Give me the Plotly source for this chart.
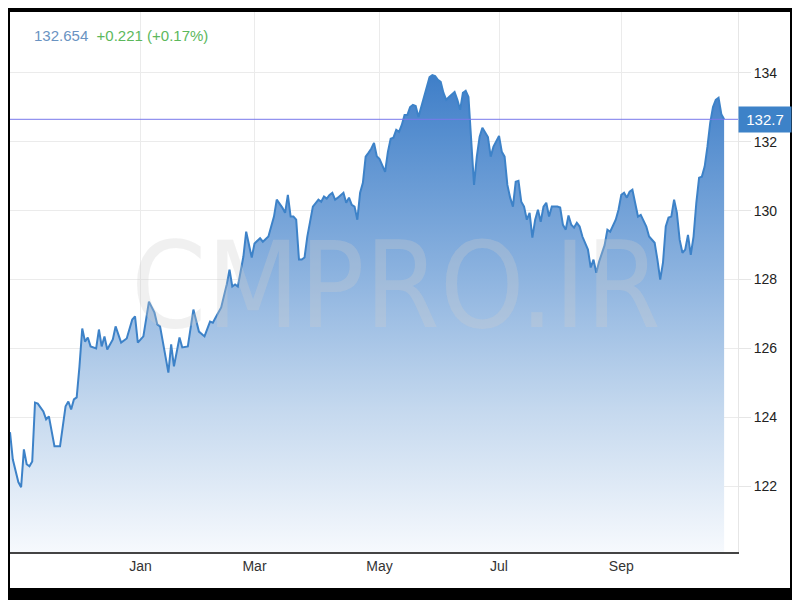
import plotly.graph_objects as go

dates = [
    "2020-10-28", "2020-10-29", "2020-11-02", "2020-11-03", "2020-11-04", "2020-11-05", "2020-11-06",
    "2020-11-09", "2020-11-10", "2020-11-11", "2020-11-13", "2020-11-16", "2020-11-17", "2020-11-18",
    "2020-11-19", "2020-11-23", "2020-11-24", "2020-11-25", "2020-11-26", "2020-11-27", "2020-11-30",
    "2020-12-01", "2020-12-02", "2020-12-03", "2020-12-04", "2020-12-07", "2020-12-08", "2020-12-09",
    "2020-12-10", "2020-12-11", "2020-12-14", "2020-12-15", "2020-12-16", "2020-12-18", "2020-12-21",
    "2020-12-23", "2020-12-25", "2020-12-29", "2020-12-30", "2020-12-31",
    "2021-01-04", "2021-01-06", "2021-01-08", "2021-01-11", "2021-01-12", "2021-01-13", "2021-01-14",
    "2021-01-15", "2021-01-18", "2021-01-19", "2021-01-21", "2021-01-22", "2021-01-26", "2021-01-28",
    "2021-02-01", "2021-02-03", "2021-02-05", "2021-02-08", "2021-02-09", "2021-02-11", "2021-02-15",
    "2021-02-16", "2021-02-17", "2021-02-18", "2021-02-19", "2021-02-23", "2021-02-24", "2021-02-26",
    "2021-03-01", "2021-03-03", "2021-03-04", "2021-03-08", "2021-03-10", "2021-03-11", "2021-03-15",
    "2021-03-16", "2021-03-17", "2021-03-18", "2021-03-19", "2021-03-22", "2021-03-23", "2021-03-24",
    "2021-03-25", "2021-03-26", "2021-03-30", "2021-04-01", "2021-04-02", "2021-04-05", "2021-04-06",
    "2021-04-07", "2021-04-08", "2021-04-09", "2021-04-12", "2021-04-14", "2021-04-15", "2021-04-16",
    "2021-04-19", "2021-04-20", "2021-04-21", "2021-04-22", "2021-04-23", "2021-04-26", "2021-04-27",
    "2021-04-28", "2021-04-29", "2021-04-30", "2021-05-03", "2021-05-05", "2021-05-06", "2021-05-07",
    "2021-05-10", "2021-05-11", "2021-05-12", "2021-05-13", "2021-05-14", "2021-05-17", "2021-05-18",
    "2021-05-19", "2021-05-20", "2021-05-21", "2021-05-24", "2021-05-25", "2021-05-26", "2021-05-27",
    "2021-05-28", "2021-05-31", "2021-06-01", "2021-06-02", "2021-06-03", "2021-06-04", "2021-06-07",
    "2021-06-09", "2021-06-10", "2021-06-11", "2021-06-14", "2021-06-15", "2021-06-16", "2021-06-17",
    "2021-06-18", "2021-06-21", "2021-06-22", "2021-06-23", "2021-06-24", "2021-06-25", "2021-06-28",
    "2021-06-29", "2021-07-01", "2021-07-02", "2021-07-05", "2021-07-06", "2021-07-07", "2021-07-08",
    "2021-07-09", "2021-07-12", "2021-07-13", "2021-07-14", "2021-07-15", "2021-07-16", "2021-07-19",
    "2021-07-20", "2021-07-21", "2021-07-22", "2021-07-23", "2021-07-26", "2021-07-27", "2021-07-28",
    "2021-07-30", "2021-08-02", "2021-08-03", "2021-08-04", "2021-08-05", "2021-08-06", "2021-08-09",
    "2021-08-10", "2021-08-11", "2021-08-12", "2021-08-16", "2021-08-17", "2021-08-18", "2021-08-19",
    "2021-08-20", "2021-08-24", "2021-08-25", "2021-08-26", "2021-08-30", "2021-08-31", "2021-09-01",
    "2021-09-02", "2021-09-03", "2021-09-06", "2021-09-07", "2021-09-08", "2021-09-09", "2021-09-10",
    "2021-09-14", "2021-09-15", "2021-09-17", "2021-09-20", "2021-09-21", "2021-09-22", "2021-09-23",
    "2021-09-24", "2021-09-27", "2021-09-28", "2021-09-29", "2021-09-30", "2021-10-01", "2021-10-04",
    "2021-10-05", "2021-10-06", "2021-10-07", "2021-10-08", "2021-10-11", "2021-10-12", "2021-10-13",
    "2021-10-14", "2021-10-15", "2021-10-18", "2021-10-19", "2021-10-20", "2021-10-21", "2021-10-22",
]

prices = [
    123.57, 122.78, 122.12, 121.97, 123.07, 122.64, 122.58,
    122.72, 124.43, 124.40, 124.17, 123.94, 124.03, 123.60,
    123.16, 123.16, 123.80, 124.32, 124.46, 124.23, 124.52,
    124.58, 125.48, 126.58, 126.20, 126.32, 126.06, 126.03,
    126.00, 126.55, 126.06, 126.35, 125.97, 126.26, 126.64,
    126.17, 126.29, 126.84, 126.93, 126.17,
    126.35, 127.36, 127.04, 126.70, 126.64, 126.20, 125.77,
    125.30, 126.12, 125.48, 126.32, 126.03, 126.06, 127.13,
    126.49, 126.35, 126.78, 126.75, 126.90, 127.19, 127.86,
    128.29, 127.80, 127.86, 127.80, 128.67, 129.39, 128.64,
    129.05, 129.20, 129.10, 129.25, 129.83, 130.32, 130.09,
    129.94, 130.46, 129.83, 129.83, 129.74, 128.58, 128.58,
    128.64, 129.25, 130.12, 130.32, 130.26, 130.41, 130.35,
    130.46, 130.52, 130.32, 130.38, 130.52, 130.23, 130.38,
    130.17, 130.12, 129.74, 130.52, 130.81, 131.57, 131.68,
    131.80, 131.97, 131.58, 131.50, 131.13, 131.71, 132.09,
    132.12, 132.35, 132.29, 132.49, 132.78, 132.78, 133.01,
    133.07, 133.04, 132.72, 133.01, 133.28, 133.59, 133.88,
    133.94, 133.91, 133.80, 133.74, 133.42, 133.22, 133.30,
    133.45, 133.22, 132.93, 133.42, 133.48, 133.30, 131.97,
    130.75, 131.57, 132.14, 132.41, 132.29, 132.14, 131.57,
    131.86, 132.17, 131.71, 131.57, 130.75, 130.38, 130.12,
    130.84, 130.87, 130.26, 130.12, 129.74, 129.94, 129.22,
    129.74, 130.03, 129.68, 130.12, 130.23, 129.83, 130.12,
    130.12, 130.09, 129.59, 129.45, 129.86, 129.59, 129.51,
    129.65, 129.54, 129.25, 128.87, 128.35, 128.58, 128.20,
    128.52, 129.00, 129.45, 129.39, 129.74, 130.03, 130.46,
    130.52, 130.38, 130.55, 130.61, 130.17, 129.83, 129.88,
    129.54, 129.25, 129.07, 128.58, 128.00, 128.49, 129.54,
    129.80, 129.83, 130.32, 129.94, 129.16, 128.78, 128.87,
    129.30, 128.72, 129.25, 130.23, 130.96, 130.99, 131.28,
    131.86, 132.55, 133.01, 133.22, 133.28, 132.80, 132.654,
]

last_price = 132.654
last_label = "132.7"
header_price = "132.654"
header_change = "+0.221 (+0.17%)"
tick_dates = ["2021-01-01", "2021-03-01", "2021-05-03", "2021-07-01", "2021-09-01"]
tick_names = ["Jan", "Mar", "May", "Jul", "Sep"]
y_ticks = [122, 124, 126, 128, 130, 132, 134]
watermark = "CMPRO.IR"

FONT = "Arial, Liberation Sans, sans-serif"
LINE = "#3d82c8"

# the page places the figure 8px from the top-left corner; the figure is
# sized 792x592 so that the plot lands where it does in the reference.
W, H = 792, 592
ML, MR, MT, MB = 2, 62, 4, 48
PW, PH = W - ML - MR, H - MT - MB

fig = go.Figure()
fig.add_trace(go.Scatter(
    x=dates, y=prices, mode="lines",
    line=dict(color=LINE, width=2),
    fill="tozeroy",
    fillgradient=dict(
        type="vertical",
        start=120.1, stop=134.0,
        colorscale=[
            [0.0, "rgb(246,249,253)"],
            [0.3, "rgb(196,216,238)"],
            [0.6, "rgb(136,176,222)"],
            [1.0, "rgb(62,126,200)"],
        ],
    ),
    hoverinfo="skip",
    showlegend=False,
))

fig.update_layout(
    width=W, height=H,
    margin=dict(l=ML, r=MR, t=MT, b=MB),
    paper_bgcolor="black",
    plot_bgcolor="white",
    font=dict(family=FONT, size=14, color="#333"),
    shapes=[
        dict(type="rect", xref="paper", yref="paper",
             x0=0, x1=(PW + 52) / PW, y0=-36 / PH, y1=1.0,
             fillcolor="white", line=dict(width=0), layer="below"),
        dict(type="line", xref="paper", yref="y", x0=0, x1=1, y0=last_price, y1=last_price,
             line=dict(color="rgb(120,120,235)", width=1), layer="above"),
    ],
    annotations=[
        dict(xref="paper", yref="paper", x=(386 / PW), y=1 - (285 - 12) / PH, text=watermark,
             showarrow=False,
             font=dict(family="DejaVu Sans Condensed, Liberation Sans Narrow, Arial", size=120,
                       color="rgba(205,205,205,0.3)")),
        dict(xref="paper", yref="paper", x=22 / PW, y=1 - (35 - 12) / PH, xanchor="left", yanchor="middle",
             showarrow=False,
             text=(f"<span style='color:#6a93c2'>{header_price}</span>"
                   f"&nbsp;&nbsp;<span style='color:#5cb85c'>{header_change}</span>"),
             font=dict(family=FONT, size=15)),
        dict(xref="paper", yref="y", x=1.0, y=last_price, xanchor="left", yanchor="middle",
             showarrow=False, text=last_label, bgcolor=LINE, width=48, height=21,
             borderpad=2, font=dict(family=FONT, size=15, color="white")),
    ],
)

fig.update_xaxes(
    type="date",
    range=["2020-10-28", "2021-10-29"],
    rangebreaks=[dict(bounds=["sat", "mon"])],
    tickvals=tick_dates, ticktext=tick_names,
    showgrid=True, gridcolor="#ebebeb", gridwidth=1,
    showline=True, linecolor="#444", linewidth=2,
    ticks="", tickfont=dict(family=FONT, size=14, color="#333"),
    zeroline=False, fixedrange=True,
)
fig.update_yaxes(
    range=[120.09, 135.77],
    side="right",
    tickvals=y_ticks,
    showgrid=True, gridcolor="#ebebeb", gridwidth=1,
    showline=True, linecolor="#e6e6e6", linewidth=1,
    ticks="outside", ticklen=12, tickcolor="#e6e6e6",
    tickfont=dict(family=FONT, size=14, color="#222"),
    zeroline=False, fixedrange=True,
)

fig.write_html("out.html")
